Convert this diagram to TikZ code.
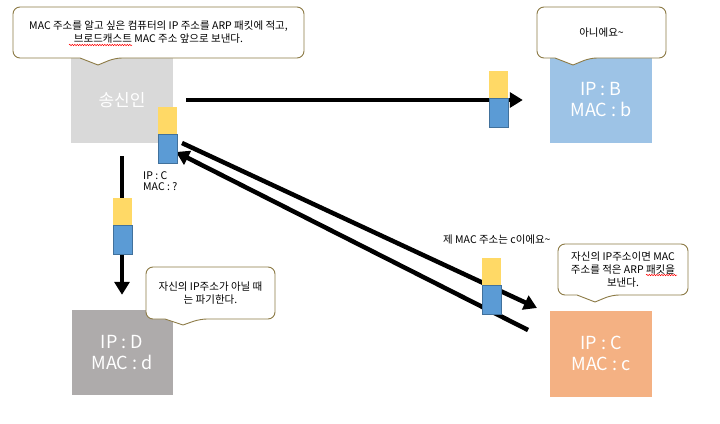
\documentclass[tikz,border=0pt]{standalone}
\usepackage{fontspec}
\setmainfont{Noto Sans CJK KR}
\usetikzlibrary{arrows.meta,decorations.pathmorphing}
\definecolor{sendergray}{HTML}{D9D9D9}
\definecolor{hostgray}{HTML}{AEABAB}
\definecolor{hostblue}{HTML}{9DC3E6}
\definecolor{hostorange}{HTML}{F4B183}
\definecolor{pktyellow}{HTML}{FFD966}
\definecolor{pktblue}{HTML}{5B9BD5}
\definecolor{pktedge}{HTML}{41719C}
\definecolor{coedge}{HTML}{8C7A45}
\newcommand\mycallout[8]{%
  \draw[co] ({#2+20},#3) [rounded corners=7pt] -- (#4,#3) -- (#4,#5) -- ({#6+17},#5) [sharp corners] -- (#6,#7) -- ({#6-18},#5) [rounded corners=7pt] -- (#2,#5) -- (#2,#3) -- cycle;
  \node[cotext] (#1) at ({(#2+#4)/2},{(#3+#5)/2}) {#8};}
\begin{document}
\begin{tikzpicture}[x=1pt,y=-1pt,
  host/.style={minimum width=102pt, minimum height=86pt, inner sep=0pt, text=white, font=\fontsize{18}{21}\selectfont, align=center},
  pkty/.style={fill=pktyellow, minimum width=19pt, minimum height=27pt, inner sep=0pt},
  pktb/.style={fill=pktblue, draw=pktedge, line width=0.6pt, minimum width=19pt, minimum height=28.5pt, inner sep=0pt},
  flow/.style={line width=4.5pt, -{Triangle[length=13pt,width=15pt]}},
  co/.style={draw=coedge, fill=white, line width=0.9pt},
  cotext/.style={font=\fontsize{10.5}{13}\selectfont, align=center, inner sep=0pt},
  lbl/.style={font=\fontsize{10.5}{11.5}\selectfont, inner sep=0pt},
  spell/.style={red, line width=0.5pt, decorate, decoration={snake, amplitude=0.7pt, segment length=2.5pt}}]
\useasboundingbox[fill=white] (0,0) rectangle (720,423);
% hosts
\node[host, fill=sendergray, font=\fontsize{17}{20}\selectfont] (sender) at (122,100) {송신인};
\node[host, fill=hostblue] (hostB) at (601,100) {IP : B\\MAC : b};
\node[host, fill=hostgray, minimum width=101pt, minimum height=85pt] (hostD) at (122,352.5) {IP : D\\MAC : d};
\node[host, fill=hostorange] (hostC) at (601,353.5) {IP : C\\MAC : c};
% callouts
\mycallout{note1}{13}{7}{304}{58}{98}{65}{MAC 주소를 알고 싶은 컴퓨터의 IP 주소를 ARP 패킷에 적고,\\브로드캐스트 MAC 주소 앞으로 보낸다.}
\mycallout{note2}{537}{7}{666}{58}{573}{65}{아니에요\textasciitilde}
\mycallout{note3}{146}{267}{275}{319}{183}{325}{자신의 IP주소가 아닐 때\\는 파기한다.}
\mycallout{note4}{558}{244}{688}{295}{595}{302}{\fontsize{10.5}{12}\selectfont 자신의 IP주소이면 MAC\\주소를 적은 ARP 패킷을\\보낸다.}
\draw[spell] (69,45) -- (132,45);
\draw[spell] (646,275) -- (677,275);
% arrows
\coordinate (d1s) at (182,143);
\coordinate (d1e) at (537,308);
\coordinate (d2s) at (528,330);
\coordinate (d2e) at (176,152);
\draw[flow] ([xshift=13pt]sender.east) -- ([xshift=-27pt]hostB.west);
\draw[flow] ([yshift=-13pt]sender.south) -- ([yshift=15pt]hostD.north);
\draw[flow] (d1s) -- (d1e);
\draw[flow] (d2s) -- (d2e);
% packets
\node[pkty, anchor=south west] (pAy) at (158,134) {};
\node[pktb, anchor=north west] (pAb) at (158,134) {};
\node[pkty, anchor=south west] (pBy) at (489,98) {};
\node[pktb, anchor=north west] (pBb) at (489,98) {};
\node[pkty, anchor=south west] (pDy) at (113,225) {};
\node[pktb, anchor=north west] (pDb) at (113,225) {};
\node[pkty, anchor=south west] (pCy) at (482,285) {};
\node[pktb, anchor=north west] (pCb) at (482,285) {};
% labels
\node[lbl, anchor=north west, align=left] (ipc) at (143,171) {IP : C\\MAC : ?};
\node[lbl, anchor=west] (reply) at (443,240) {제 MAC 주소는 c이에요\textasciitilde};
\end{tikzpicture}
\end{document}
